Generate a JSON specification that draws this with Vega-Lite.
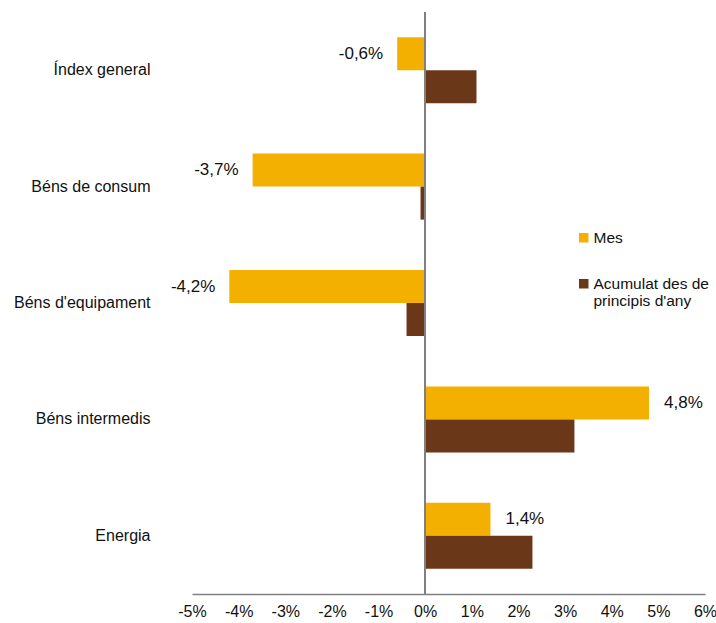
{
  "$schema": "https://vega.github.io/schema/vega-lite/v6.json",
  "width": 513,
  "height": 582,
  "autosize": "none",
  "padding": {"left": 192, "top": 12, "right": 11, "bottom": 29},
  "background": "white",
  "config": {
    "view": {"stroke": null},
    "font": "Liberation Sans",
    "locale": {"number": {"decimal": ",", "thousands": ".", "grouping": [3], "currency": ["", " €"], "minus": "-"}}
  },
  "data": {
    "values": [
      {"cat": "Índex general", "serie": "Mes", "v": -0.006},
      {"cat": "Índex general", "serie": "Acumulat des de principis d'any", "v": 0.011},
      {"cat": "Béns de consum", "serie": "Mes", "v": -0.037},
      {"cat": "Béns de consum", "serie": "Acumulat des de principis d'any", "v": -0.001},
      {"cat": "Béns d'equipament", "serie": "Mes", "v": -0.042},
      {"cat": "Béns d'equipament", "serie": "Acumulat des de principis d'any", "v": -0.004},
      {"cat": "Béns intermedis", "serie": "Mes", "v": 0.048},
      {"cat": "Béns intermedis", "serie": "Acumulat des de principis d'any", "v": 0.032},
      {"cat": "Energia", "serie": "Mes", "v": 0.014},
      {"cat": "Energia", "serie": "Acumulat des de principis d'any", "v": 0.023}
    ]
  },
  "encoding": {
    "y": {
      "field": "cat", "type": "nominal", "sort": null,
      "scale": {"domain": ["Índex general", "Béns de consum", "Béns d'equipament", "Béns intermedis", "Energia"], "paddingInner": 0.433, "paddingOuter": 0.2167},
      "axis": {"title": null, "domain": false, "ticks": false, "labelPadding": 42, "labelFontSize": 16, "labelColor": "#111111", "labelFont": "Liberation Sans"}
    },
    "yOffset": {
      "field": "serie", "type": "nominal",
      "scale": {"domain": ["Mes", "Acumulat des de principis d'any"], "paddingInner": 0, "paddingOuter": 0}
    }
  },
  "layer": [
    {
      "mark": {"type": "bar", "cornerRadius": 0},
      "encoding": {
        "x": {
          "field": "v", "type": "quantitative",
          "scale": {"domain": [-0.05, 0.06], "nice": false, "zero": false},
          "axis": {
            "title": null, "format": ".0%", "values": [-0.05, -0.04, -0.03, -0.02, -0.01, 0, 0.01, 0.02, 0.03, 0.04, 0.05, 0.06],
            "grid": false, "ticks": false, "domainColor": "#808080", "domainWidth": 1.5,
            "labelFontSize": 16, "labelColor": "#111111", "labelPadding": 9, "labelFlush": false, "labelFont": "Liberation Sans"
          }
        },
        "color": {
          "field": "serie", "type": "nominal",
          "scale": {"domain": ["Mes", "Acumulat des de principis d'any"], "range": ["#F4B000", "#6A3819"]},
          "legend": {
            "title": null, "orient": "none", "legendX": 384, "legendY": 218,
            "symbolType": "square", "symbolSize": 90, "symbolStrokeWidth": 0,
            "labelFontSize": 15.5, "labelColor": "#111111", "labelFont": "Liberation Sans",
            "labelOffset": 2, "rowPadding": 29, "labelLimit": 200,
            "labelExpr": "datum.label == 'Mes' ? 'Mes' : ['Acumulat des de', 'principis d\\'any']"
          }
        }
      }
    },
    {
      "mark": {"type": "rule", "color": "#808080", "strokeWidth": 1.5},
      "encoding": {
        "x": {"datum": 0, "type": "quantitative"},
        "y": null,
        "yOffset": null
      }
    },
    {
      "transform": [{"filter": "datum.serie == 'Mes' && datum.v < 0"}],
      "mark": {"type": "text", "align": "right", "baseline": "middle", "dx": -14, "fontSize": 17, "color": "#111111", "font": "Liberation Sans"},
      "encoding": {
        "x": {"field": "v", "type": "quantitative"},
        "text": {"field": "v", "type": "quantitative", "format": ".1%"}
      }
    },
    {
      "transform": [{"filter": "datum.serie == 'Mes' && datum.v >= 0"}],
      "mark": {"type": "text", "align": "left", "baseline": "middle", "dx": 15, "fontSize": 17, "color": "#111111", "font": "Liberation Sans"},
      "encoding": {
        "x": {"field": "v", "type": "quantitative"},
        "text": {"field": "v", "type": "quantitative", "format": ".1%"}
      }
    }
  ]
}
